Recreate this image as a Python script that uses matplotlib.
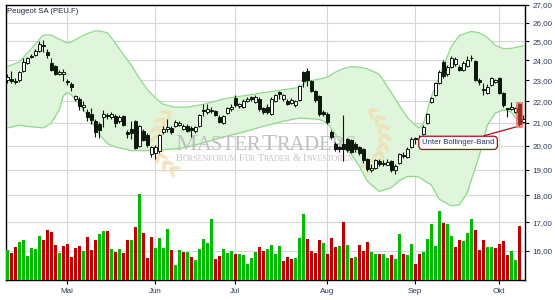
import numpy as np
import matplotlib
matplotlib.use('Agg')
import matplotlib.pyplot as plt
from matplotlib.ticker import NullLocator
from matplotlib.patches import Rectangle, Ellipse
from matplotlib.offsetbox import TextArea, HPacker, AnnotationBbox

plt.rcParams['font.family'] = ['Liberation Sans', 'DejaVu Sans']

# Daily candles (Apr 8 .. Oct 9), prices in EUR
opens = [23.00, 23.05, 22.95, 23.00, 23.45, 23.85, 24.15, 24.25, 24.50, 24.72,
         24.42, 23.88, 23.70, 23.30, 23.30, 22.98, 22.82, 22.12, 22.10, 21.72,
         21.50, 21.42, 21.10, 20.95, 21.25, 21.38, 21.28, 21.32, 21.10, 21.30,
         20.58, 20.72, 21.10, 20.00, 20.65, 20.45, 19.65, 19.72, 19.78, 20.62,
         20.75, 20.78, 20.85, 20.92, 20.75, 20.88, 20.78, 20.65, 20.85, 21.60,
         21.50, 21.60, 21.55, 21.25, 21.02, 21.45, 21.62, 22.15, 21.78, 21.75,
         22.02, 22.18, 21.95, 22.12, 21.70, 21.75, 21.42, 22.02, 22.45, 22.10,
         22.02, 21.92, 21.80, 22.05, 23.40, 23.45, 22.95, 22.50, 22.25, 21.50,
         21.40, 20.62, 20.10, 19.95, 20.10, 20.30, 20.25, 20.10, 19.95, 19.85,
         19.45, 19.00, 19.10, 19.35, 19.25, 19.22, 19.35, 18.98, 19.30, 19.62,
         19.55, 19.95, 20.30, 20.30, 20.50, 21.00, 21.95, 22.30, 22.85, 23.90,
         23.30, 23.65, 23.80, 23.65, 23.50, 23.70, 24.10, 23.95, 23.00, 22.60,
         22.40, 22.75, 22.90, 23.10, 22.40, 21.68, 21.65, 21.50, 21.85, 21.05]
highs = [23.30, 23.45, 23.10, 23.45, 24.10, 24.15, 24.30, 24.60, 25.00, 25.05,
         24.60, 24.10, 23.75, 23.50, 23.55, 23.05, 22.90, 22.30, 22.20, 22.00,
         21.65, 21.70, 21.20, 21.05, 21.60, 21.45, 21.50, 21.40, 21.35, 21.35,
         20.70, 21.10, 21.15, 20.90, 20.75, 20.55, 20.00, 20.05, 20.50, 20.85,
         21.20, 20.85, 21.15, 21.10, 20.95, 20.95, 20.85, 20.85, 21.42, 21.85,
         21.85, 21.75, 21.60, 21.35, 21.35, 21.75, 21.85, 22.30, 21.90, 22.10,
         22.20, 22.25, 22.30, 22.20, 21.75, 21.85, 22.20, 22.32, 22.50, 22.35,
         22.10, 22.15, 22.05, 22.75, 23.45, 23.60, 23.00, 22.55, 22.30, 21.60,
         21.50, 20.70, 20.15, 20.00, 21.35, 20.35, 20.30, 20.15, 20.00, 19.90,
         19.50, 19.25, 19.45, 19.45, 19.40, 19.45, 19.40, 19.25, 19.70, 19.75,
         19.95, 20.40, 20.40, 20.45, 20.90, 21.45, 22.20, 22.90, 23.50, 24.00,
         23.75, 24.20, 24.15, 23.75, 23.95, 24.20, 24.25, 24.00, 23.10, 22.85,
         22.80, 23.15, 23.05, 23.15, 22.45, 21.70, 21.95, 21.75, 21.90, 21.35]
lows = [22.88, 22.85, 22.80, 22.90, 23.40, 23.80, 24.10, 24.20, 24.45, 24.45,
        24.10, 23.45, 23.25, 23.25, 22.95, 22.75, 22.50, 22.00, 21.60, 21.55,
        21.10, 20.95, 20.40, 20.35, 20.80, 21.20, 21.20, 20.80, 21.00, 20.85,
        20.35, 20.30, 19.85, 19.95, 20.20, 19.95, 19.55, 19.45, 19.70, 20.50,
        20.60, 20.50, 20.80, 20.85, 20.70, 20.60, 20.40, 20.55, 20.80, 21.30,
        21.40, 21.45, 21.30, 20.98, 20.95, 21.40, 21.55, 21.72, 21.70, 21.70,
        21.95, 22.00, 21.90, 21.55, 21.40, 21.42, 21.38, 21.95, 22.10, 22.00,
        21.80, 21.85, 21.75, 22.00, 22.65, 22.70, 22.45, 21.95, 21.30, 21.30,
        20.95, 20.30, 19.80, 19.75, 19.35, 19.75, 19.70, 19.75, 19.60, 19.30,
        18.95, 18.90, 19.05, 19.15, 19.15, 19.20, 18.90, 18.85, 19.25, 19.50,
        19.50, 19.90, 20.10, 20.15, 20.45, 20.95, 21.90, 22.25, 22.80, 23.10,
        23.20, 23.60, 23.70, 23.45, 23.45, 23.65, 23.95, 22.95, 22.75, 22.30,
        22.35, 22.70, 22.85, 22.35, 21.75, 21.25, 21.60, 21.45, 20.85, 21.00]
closes = [23.15, 22.95, 22.90, 23.40, 23.90, 24.10, 24.22, 24.50, 24.85, 24.80,
          24.25, 23.52, 23.30, 23.40, 23.42, 22.90, 22.65, 22.25, 21.78, 21.80,
          21.25, 21.12, 20.62, 20.70, 21.42, 21.33, 21.42, 21.00, 21.25, 20.90,
          20.50, 20.55, 19.92, 20.85, 20.27, 20.05, 19.95, 19.95, 20.45, 20.75,
          20.80, 20.58, 21.05, 21.00, 20.88, 20.65, 20.68, 20.80, 21.38, 21.55,
          21.62, 21.52, 21.38, 21.05, 21.30, 21.68, 21.72, 21.82, 21.85, 22.02,
          22.08, 22.10, 22.20, 21.62, 21.48, 21.48, 22.08, 22.27, 22.35, 22.30,
          21.88, 22.07, 22.02, 22.70, 22.95, 23.02, 22.50, 22.05, 21.40, 21.42,
          21.05, 20.38, 19.87, 19.88, 19.85, 19.82, 19.75, 19.85, 19.70, 19.40,
          19.05, 19.10, 19.40, 19.25, 19.30, 19.32, 18.98, 19.15, 19.65, 19.58,
          19.85, 20.30, 20.28, 20.25, 20.80, 21.40, 22.15, 22.85, 23.40, 23.20,
          23.65, 24.10, 24.05, 23.50, 23.85, 24.00, 24.12, 23.00, 22.90, 22.55,
          22.65, 23.10, 23.00, 22.40, 21.80, 21.65, 21.75, 21.70, 20.95, 21.20]

# Volume (relative units), last candle has no volume yet
volumes = [91, 82, 100, 115, 121, 73, 97, 94, 133, 121,
           151, 145, 106, 82, 103, 109, 70, 97, 103, 88,
           130, 91, 121, 139, 148, 148, 94, 85, 94, 82,
           121, 121, 160, 259, 142, 67, 130, 97, 127, 97,
           154, 91, 46, 91, 85, 85, 70, 61, 94, 124,
           112, 184, 64, 73, 94, 82, 88, 79, 79, 76,
           49, 67, 85, 100, 88, 94, 106, 79, 103, 58,
           70, 64, 67, 127, 199, 124, 88, 82, 121, 112,
           79, 127, 100, 103, 175, 106, 67, 70, 106, 88,
           115, 85, 79, 79, 79, 67, 76, 64, 139, 79,
           76, 109, 49, 79, 85, 124, 169, 103, 208, 172,
           169, 133, 100, 121, 118, 142, 184, 151, 91, 121,
           100, 100, 97, 109, 118, 76, 88, 61, 163]
vol_dir = ("GRRGGGGGGR" "RRRGRRRRRG" "RRRGGRGRGR" "RGRGRRRGGG" "GRGGRGRGGG"
           "GGRRGGGRGG" "GGGRRGGGGR" "RRGGGRRRRG" "RRRGRGRGRR" "RGGRGGRGGR"
           "GGRRGGGGGR" "GGRRGGGRRR" "GGRRRRGGR")

# Bollinger band (day index, upper, lower)
band_day = [0, 3, 6, 9, 11, 13, 14, 15, 16, 18, 20, 22, 23, 25, 27, 29, 31, 33,
            35, 37, 39, 42, 45, 49, 54, 59, 64, 69, 73, 75, 78, 80, 82, 84, 86,
            88, 90, 93, 96, 98, 100, 102, 103, 104, 106, 108, 111, 113, 115,
            116, 118, 120, 122, 124, 126, 127, 129]
band_up = [23.68, 23.91, 24.60, 25.33, 25.33, 25.10, 25.00, 24.90, 24.95, 25.20,
           25.40, 25.55, 25.55, 25.45, 24.90, 24.30, 23.75, 23.10, 22.56, 22.15,
           21.85, 21.72, 21.72, 21.85, 22.10, 22.25, 22.40, 22.54, 22.65, 22.95,
           23.06, 23.15, 23.40, 23.58, 23.68, 23.65, 23.57, 23.30, 22.40, 21.80,
           21.25, 20.90, 20.78, 20.95, 22.20, 23.17, 24.70, 25.30, 25.45, 25.52,
           25.45, 25.20, 24.78, 24.60, 24.62, 24.66, 24.75]
band_low = [20.78, 20.90, 20.83, 20.78, 21.00, 21.60, 22.25, 22.40, 22.30, 21.85,
            21.35, 20.80, 20.50, 20.10, 19.95, 19.88, 19.80, 19.80, 19.80, 19.82,
            19.84, 19.88, 19.95, 20.13, 20.38, 20.60, 20.85, 21.08, 21.22, 21.20,
            21.16, 21.00, 20.50, 19.95, 19.65, 19.15, 18.55, 18.15, 18.30, 18.57,
            18.74, 18.74, 18.71, 18.60, 18.40, 17.85, 17.60, 17.64, 18.10, 18.60,
            19.60, 20.90, 21.45, 21.60, 21.50, 21.25, 21.05]

month_day = [15, 37, 57, 80, 102, 123]
month_labels = ['Mai', 'Jun', 'Jul', 'Aug', 'Sep', 'Okt']
price_ticks = [16, 17, 18, 19, 20, 21, 22, 23, 24, 25, 26, 27]
signal_day = 128

opens = np.array(opens)
highs = np.array(highs)
lows = np.array(lows)
closes = np.array(closes)
day = np.arange(len(closes))

fig = plt.figure(figsize=(5.55, 3.0), dpi=100)
ax = fig.add_axes([5.5 / 555, 20 / 300, 519.8 / 555, 275 / 300])
ax.set_yscale('log')
ax.set_xlim(-0.45, 129.5)
ax.set_ylim(15.03, 27.0)
ax.grid(True, color='#d6d6d6', lw=0.8)
ax.set_axisbelow(True)
for s in ax.spines.values():
    s.set_linewidth(1.0)
    s.set_color('black')

# Bollinger band
ax.fill_between(band_day, band_low, band_up, color='#e0f6dc', lw=0, zorder=1)
ax.plot(band_day, band_up, color='#8fd98a', lw=0.9, zorder=2)
ax.plot(band_day, band_low, color='#8fd98a', lw=0.9, zorder=2)

# Watermark (small caps text plus two faint laurel branches)
def caps_box(words, big, small, color, gap=' '):
    parts = []
    for k, word in enumerate(words):
        if k > 0 and gap:
            parts.append(TextArea(gap, textprops=dict(fontsize=small, color=color, family='Liberation Serif')))
        parts.append(TextArea(word[0], textprops=dict(fontsize=big, color=color, family='Liberation Serif')))
        if len(word) > 1:
            parts.append(TextArea(word[1:], textprops=dict(fontsize=small, color=color, family='Liberation Serif')))
    return HPacker(children=parts, align='baseline', pad=0, sep=0)

wm1 = AnnotationBbox(caps_box(['MASTER', 'TRADERS'], 17.6, 14.7, '#bfbfbf', gap=''),
                     (0.327, 0.455), xycoords='axes fraction', box_alignment=(0, 0),
                     frameon=False, zorder=2.5)
ax.add_artist(wm1)
wm2 = AnnotationBbox(caps_box('BÖRSENFORUM FÜR TRADER & INVESTOREN'.split(' '), 7.4, 5.8, '#c4c4c4'),
                     (0.327, 0.425), xycoords='axes fraction', box_alignment=(0, 0),
                     frameon=False, zorder=2.5)
ax.add_artist(wm2)

def laurel(cx, cy, r, side):
    # cx, cy: arc centre in pixels from the top-left corner; side -1 = left branch
    for t in np.linspace(-55, 55, 8):
        a = np.radians(180 + t) if side < 0 else np.radians(-t)
        px, py = cx + r * np.cos(a), cy - r * np.sin(a)
        tang = np.degrees(a) + 90 * (-side)
        for off in (-35, 35):
            ang = np.radians(tang + off)
            ex, ey = px + 5 * np.cos(ang), py - 5 * np.sin(ang)
            ax.add_patch(Ellipse((ex / 100, (300 - ey) / 100), 0.11, 0.04,
                                 angle=tang + off, transform=fig.dpi_scale_trans,
                                 facecolor='#f3dcae', edgecolor='none', alpha=0.75,
                                 zorder=2.4))

laurel(190, 140, 34, -1)
laurel(350, 138, 34, 1)

# Candles
ink = '#0c180c'
ax.vlines(day, lows, highs, color=ink, lw=0.8, zorder=3)
body_lo = np.minimum(opens, closes)
body_hi = np.maximum(np.maximum(opens, closes), body_lo + 0.04)
up = closes >= opens
ax.bar(day[up], (body_hi - body_lo)[up], bottom=body_lo[up], width=0.7,
       facecolor='white', edgecolor=ink, lw=0.7, zorder=4)
ax.bar(day[~up], (body_hi - body_lo)[~up], bottom=body_lo[~up], width=0.7,
       facecolor=ink, edgecolor=ink, lw=0.7, zorder=4)

# Signal highlight and label
ax.add_patch(Rectangle((signal_day - 0.9, lows[signal_day] * 0.996), 1.8,
                       highs[signal_day] * 1.003 - lows[signal_day] * 0.996,
                       facecolor='#e8403c', alpha=0.6, lw=0, zorder=5))
ax.annotate('Unter Bollinger-Band', xy=(signal_day - 0.9, 20.82), xytext=(112.7, 20.13),
            ha='center', va='center', fontsize=5.6, color='#22386b', zorder=6,
            bbox=dict(boxstyle='round,pad=0.4,rounding_size=0.5', fc='white', ec='#a01414', lw=0.9),
            arrowprops=dict(arrowstyle='-', color='#a01414', lw=0.9, shrinkA=0, shrinkB=0))

ax.text(0.003, 0.988, 'Peugeot SA (PEU.F)', transform=ax.transAxes, ha='left', va='top',
        fontsize=5.6, color='#1a2540', zorder=6)

# Volume on its own scale
axv = ax.twinx()
vol_x = np.arange(len(volumes))
vol_col = ['#00bb00' if d == 'G' else '#c00000' for d in vol_dir]
axv.bar(vol_x, volumes, width=0.68, color=vol_col, zorder=3)
axv.set_ylim(0, 825)
axv.set_yticks([])
for s in axv.spines.values():
    s.set_visible(False)

# Axis ticks (after twinx, which moves the ticks to the left)
ax.set_yticks(price_ticks)
ax.set_yticklabels(['%d,00' % p for p in price_ticks])
ax.yaxis.set_minor_locator(NullLocator())
ax.set_xticks(month_day)
ax.set_xticklabels(month_labels)
ax.yaxis.tick_right()
ax.tick_params(axis='y', length=3, width=0.8, pad=2, labelsize=5.8, labelcolor='#2b3a58')
ax.tick_params(axis='x', length=3, width=0.8, pad=2.5, labelsize=5.8, labelcolor='#2b3a58')

fig.savefig('out.png', dpi=100)
